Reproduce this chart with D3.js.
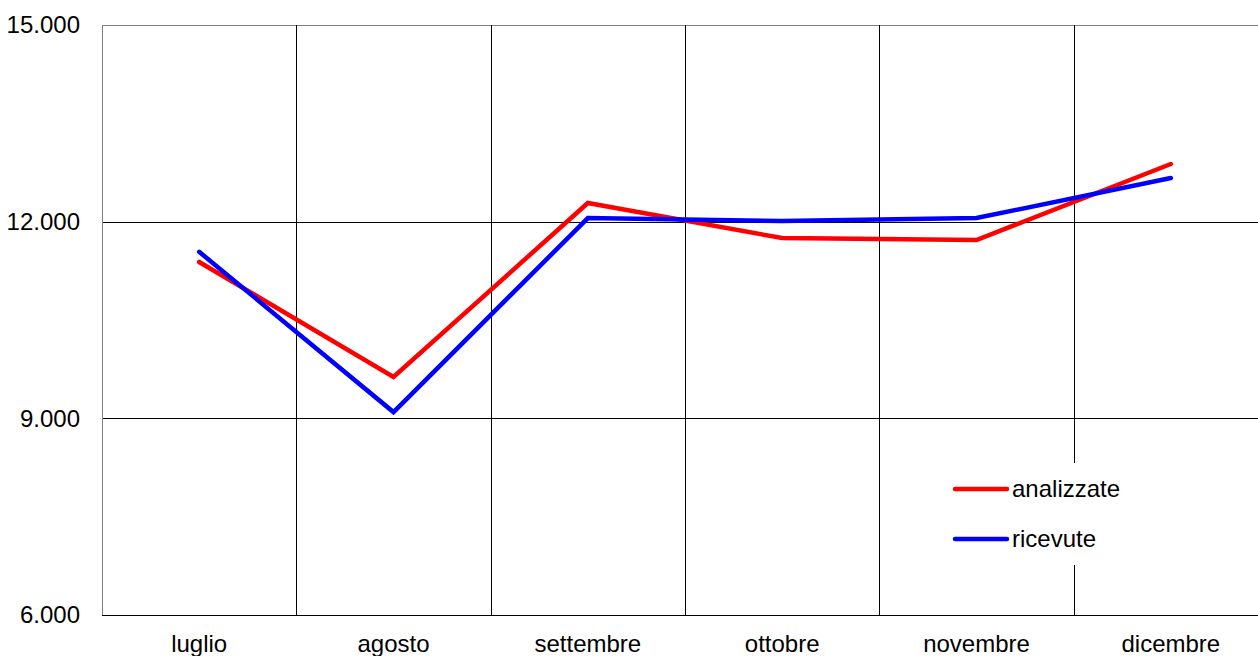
<!DOCTYPE html>
<html><head><meta charset="utf-8">
<script src="https://cdn.jsdelivr.net/npm/d3@7"></script>
<style>body{margin:0;background:#fff;overflow:hidden;} svg{display:block;font-family:"Liberation Sans",Arial,sans-serif;}</style>
</head><body>
<svg id="c" width="1258" height="656"></svg>
<script>
const categories = ["luglio","agosto","settembre","ottobre","novembre","dicembre"];
const analizzate = [11385, 9630, 12285, 11750, 11720, 12880];
const ricevute = [11540, 9095, 12055, 12010, 12055, 12665];
const yTicks = [6000, 9000, 12000, 15000];
const seriesNames = ["analizzate","ricevute"];
const seriesColors = ["#ff0000","#0000ff"];

const svg = d3.select("#c");
const L = 102, R = 1268, T = 25, B = 615;
const x = d3.scaleBand().domain(categories).range([L, R]).padding(0);
const y = d3.scaleLinear().domain([6000, 15000]).range([B, T]);
const fmt = v => d3.format(",")(v).replace(/,/g, ".");

// horizontal gridlines
svg.append("g").selectAll("line").data(yTicks).join("line")
  .attr("x1", L).attr("x2", R)
  .attr("y1", d => Math.round(y(d)) + 0.5).attr("y2", d => Math.round(y(d)) + 0.5)
  .attr("stroke", d => d === 15000 ? "#808080" : "#000").attr("stroke-width", 1);

// vertical gridlines (band boundaries)
const bounds = categories.map(c => x(c));
svg.append("g").selectAll("line").data(bounds).join("line")
  .attr("x1", d => Math.round(d) + 0.5).attr("x2", d => Math.round(d) + 0.5)
  .attr("y1", T).attr("y2", B)
  .attr("stroke", (d, i) => i === 0 ? "#808080" : "#000").attr("stroke-width", 1);

// y labels
svg.append("g").selectAll("text").data(yTicks).join("text")
  .attr("x", 80).attr("y", d => y(d)).attr("dy", "0.35em")
  .attr("text-anchor", "end").attr("font-size", 24).attr("fill", "#000")
  .text(fmt);

// x labels
svg.append("g").selectAll("text").data(categories).join("text")
  .attr("x", d => x(d) + x.bandwidth() / 2).attr("y", 652)
  .attr("text-anchor", "middle").attr("font-size", 24).attr("fill", "#000")
  .text(d => d);

// lines
const line = d3.line().x((d, i) => x(categories[i]) + x.bandwidth() / 2).y(d => y(d));
[analizzate, ricevute].forEach((s, i) => {
  svg.append("path").datum(s).attr("d", line)
    .attr("fill", "none").attr("stroke", seriesColors[i]).attr("stroke-width", 4.5)
    .attr("stroke-linejoin", "miter").attr("stroke-linecap", "round");
});

// legend
const lg = svg.append("g");
lg.append("rect").attr("x", 945).attr("y", 463).attr("width", 180).attr("height", 102).attr("fill", "#fff");
seriesNames.forEach((n, i) => {
  const yy = 489 + i * 50;
  lg.append("line").attr("x1", 955).attr("x2", 1007).attr("y1", yy).attr("y2", yy)
    .attr("stroke", seriesColors[i]).attr("stroke-width", 4.5).attr("stroke-linecap", "round");
  lg.append("text").attr("x", 1012).attr("y", yy).attr("dy", "0.35em")
    .attr("font-size", 24).attr("fill", "#000").text(n);
});
</script>
</body></html>
